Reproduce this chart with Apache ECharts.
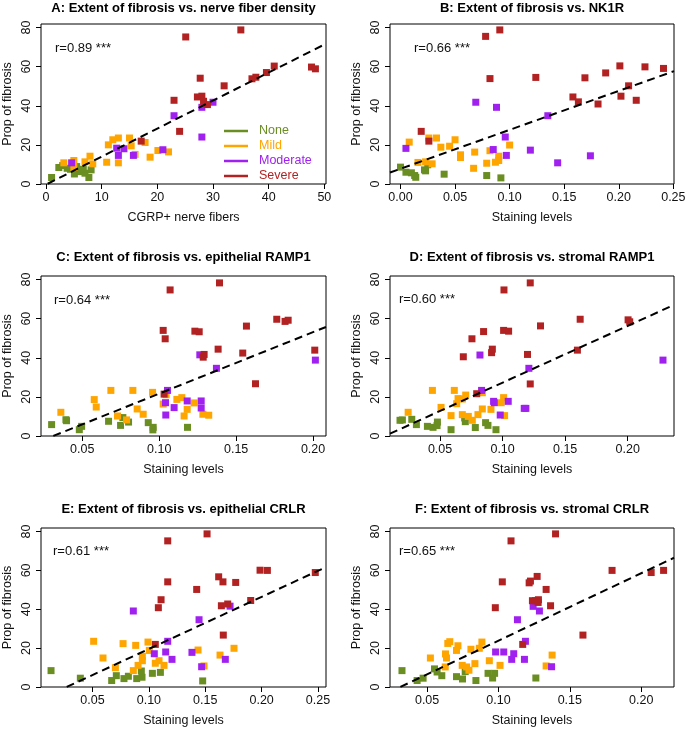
<!DOCTYPE html>
<html><head><meta charset="utf-8">
<script src="https://cdn.jsdelivr.net/npm/echarts@6/dist/echarts.min.js"></script>
<style>html,body{margin:0;padding:0;background:#fff}#c{width:685px;height:729px}</style>
</head><body><div id="c"></div><script>
// ---------- data ----------
const groups = ['None', 'Mild', 'Moderate', 'Severe'];
const groupColors = ['#6B8E23', '#FFA500', '#A020F0', '#B22222'];

const panelTitles = [
  'A: Extent of fibrosis vs. nerve fiber density',
  'B: Extent of fibrosis vs. NK1R',
  'C: Extent of fibrosis vs. epithelial RAMP1',
  'D: Extent of fibrosis vs. stromal RAMP1',
  'E: Extent of fibrosis vs. epithelial CRLR',
  'F: Extent of fibrosis vs. stromal CRLR'
];
const xNames = ['CGRP+ nerve fibers', 'Staining levels', 'Staining levels', 'Staining levels', 'Staining levels', 'Staining levels'];
const yName = 'Prop of fibrosis';
const rLabels = ['r=0.89 ***', 'r=0.66 ***', 'r=0.64 ***', 'r=0.60 ***', 'r=0.61 ***', 'r=0.65 ***'];

const yTicks = [0, 20, 40, 60, 80];
const xTicksA = [0, 10, 20, 30, 40, 50];
const xTicksB = [0, 0.05, 0.10, 0.15, 0.20, 0.25];
const xTicksC = [0.05, 0.10, 0.15, 0.20];
const xTicksD = [0.05, 0.10, 0.15, 0.20];
const xTicksE = [0.05, 0.10, 0.15, 0.20, 0.25];
const xTicksF = [0.05, 0.10, 0.15, 0.20];

// axis ranges (R style 4% extension)
const xRanges = [[-0.9, 50.3], [-0.0096, 0.2506], [0.0232, 0.2084], [0.010, 0.237], [0.0043, 0.2571], [0.024, 0.223]];
const yRange = [-0.03, 81.83];

// Panel A
const aNone = [[1.0,3.3],[2.3,8.4],[3.0,9.4],[3.8,8.0],[4.4,7.5],[5.1,5.1],[6.1,6.3],[7.0,5.5],[6.7,7.5],[8.1,7.2],[7.7,3.3],[5.5,8.9]];
const aMild = [[11.2,20.0],[12.0,22.6],[13.0,23.5],[15.0,23.5],[15.3,19.5],[16.0,15.1],[17.8,21.2],[18.7,13.7],[20.1,17.1],[22.0,16.4],[10.9,11.1],[13.0,10.8],[7.9,14.2],[8.4,10.3],[7.0,11.3],[5.0,12.0],[3.2,10.8],[5.0,8.4]];
const aModerate = [[23.0,34.9],[28.0,39.2],[30.0,41.8],[28.0,24.0],[21.0,17.5],[12.7,18.3],[14.0,18.0],[13.0,14.6],[15.7,14.6],[4.6,10.8]];
const aSevere = [[25.1,75.2],[35.0,78.8],[27.7,54.1],[23.0,42.8],[24.0,26.9],[17.1,21.9],[27.2,44.5],[28.0,44.9],[28.3,42.3],[29.0,40.6],[32.0,50.2],[37.0,53.8],[37.7,54.6],[39.6,57.0],[41.0,60.3],[47.7,59.8],[48.4,58.9]];
const aFit = [[0.3,0.1],[50.3,71.75]];

// Panel B
const bNone = [[0.000,8.6],[0.005,6.0],[0.010,5.7],[0.013,4.3],[0.014,3.4],[0.022,7.2],[0.025,9.8],[0.023,6.7],[0.040,5.0],[0.079,4.3],[0.092,3.1]];
const bMild = [[0.008,21.4],[0.026,23.5],[0.033,23.5],[0.037,18.8],[0.045,19.3],[0.050,22.6],[0.055,14.9],[0.055,13.5],[0.068,16.3],[0.067,8.0],[0.079,10.6],[0.082,17.0],[0.087,11.1],[0.090,12.0],[0.090,14.2],[0.100,19.9],[0.016,11.0],[0.023,11.3],[0.029,10.3]];
const bModerate = [[0.005,18.2],[0.069,41.8],[0.088,39.2],[0.135,34.9],[0.096,24.0],[0.085,17.6],[0.097,14.6],[0.119,17.3],[0.144,10.8],[0.174,14.4]];
const bSevere = [[0.078,75.5],[0.091,78.8],[0.082,53.9],[0.124,54.5],[0.019,26.9],[0.026,21.9],[0.158,44.5],[0.163,42.0],[0.169,54.3],[0.188,56.8],[0.181,40.9],[0.201,60.4],[0.202,44.9],[0.209,50.2],[0.216,42.8],[0.224,59.9],[0.241,59.1]];
const bFit = [[-0.0096,5.84],[0.2506,57.69]];

// Panel C
const cNone = [[0.0301,5.8],[0.0394,8.3],[0.0398,7.8],[0.0481,3.2],[0.0496,4.9],[0.0671,7.5],[0.0749,5.4],[0.0764,9.4],[0.0801,7.1],[0.0929,6.8],[0.0961,4.4],[0.0959,3.1],[0.1184,4.4]];
const cMild = [[0.0361,12.1],[0.0578,18.6],[0.0591,14.8],[0.0686,23.3],[0.0729,10.2],[0.0788,8.2],[0.0829,23.3],[0.0857,13.8],[0.0896,11.1],[0.0957,22.3],[0.1026,16.3],[0.1045,21.1],[0.1115,18.7],[0.1147,19.6],[0.1162,10.2],[0.1182,13.6],[0.1227,16.9],[0.1284,11.1],[0.1322,10.6]];
const cModerate = [[0.1264,41.5],[0.1372,34.6],[0.2015,38.8],[0.1054,23.3],[0.1041,17.0],[0.1043,10.7],[0.1097,14.5],[0.1182,17.9],[0.1273,17.9],[0.1273,14.3]];
const cSevere = [[0.1071,74.7],[0.1392,78.3],[0.1026,54.0],[0.1039,49.7],[0.1232,53.6],[0.1260,53.3],[0.1383,44.4],[0.1292,41.7],[0.1286,40.3],[0.1543,42.4],[0.1567,56.2],[0.1764,59.7],[0.1818,58.6],[0.1838,59.2],[0.2011,43.9],[0.1626,26.7],[0.1032,21.4]];
const cFit = [[0.0312,0],[0.2084,55.76]];

// Panel D
const dNone = [[0.018,8.0],[0.0199,8.2],[0.0274,8.5],[0.0311,5.8],[0.0399,4.9],[0.0444,4.4],[0.0476,5.3],[0.0479,7.1],[0.0588,3.2],[0.0697,9.2],[0.0702,7.3],[0.0782,4.3],[0.0864,6.8],[0.0883,5.4],[0.0947,3.2]];
const dMild = [[0.0245,12.1],[0.0439,23.3],[0.0508,14.6],[0.0588,10.4],[0.0614,23.3],[0.0633,16.5],[0.0644,19.1],[0.0678,18.9],[0.0705,20.9],[0.0678,10.9],[0.0726,10.0],[0.0758,8.0],[0.0803,10.9],[0.0838,13.8],[0.0907,13.6],[0.0989,17.0],[0.1008,19.6],[0.1016,10.4],[0.0838,22.1]];
const dModerate = [[0.0819,41.4],[0.1210,34.6],[0.2282,38.8],[0.0832,23.3],[0.0928,17.7],[0.0934,17.0],[0.1045,17.7],[0.1173,14.1],[0.1186,14.1],[0.0981,10.7]];
const dSevere = [[0.1011,74.7],[0.1221,78.3],[0.0755,49.7],[0.0848,53.4],[0.1008,54.0],[0.1048,53.6],[0.1303,56.3],[0.1620,59.7],[0.2003,59.4],[0.2016,58.4],[0.0686,40.5],[0.0912,42.6],[0.0918,44.4],[0.1199,41.7],[0.1598,43.9],[0.1221,26.6],[0.0793,21.6]];
const dFit = [[0.010,1.17],[0.237,67.05]];

// Panel E
const eNone = [[0.0132,8.4],[0.0392,4.5],[0.0670,3.3],[0.0711,5.8],[0.0779,4.3],[0.0818,5.5],[0.0892,4.3],[0.0933,8.2],[0.0939,5.0],[0.1031,7.0],[0.1102,7.5],[0.1477,3.1]];
const eMild = [[0.0510,23.5],[0.0593,14.9],[0.0771,22.3],[0.0883,21.4],[0.0992,23.1],[0.1004,18.8],[0.0703,9.9],[0.0862,8.4],[0.0904,11.1],[0.0942,13.5],[0.0942,15.8],[0.1057,12.2],[0.1090,13.5],[0.1134,11.1],[0.1436,19.0],[0.1631,16.4],[0.1755,19.9],[0.1489,10.8]];
const eModerate = [[0.0862,39.1],[0.1445,34.6],[0.1720,41.6],[0.1167,23.5],[0.1048,17.1],[0.1149,18.0],[0.1205,14.2],[0.1382,17.8],[0.1678,14.2],[0.1468,10.4]];
const eSevere = [[0.1167,75.2],[0.1516,78.8],[0.1167,54.1],[0.1424,50.2],[0.1108,44.9],[0.1084,40.8],[0.1619,56.7],[0.1657,54.1],[0.1770,53.8],[0.1986,60.1],[0.2051,60.0],[0.2476,58.9],[0.1903,44.5],[0.1643,41.8],[0.1699,42.7],[0.1660,26.7],[0.1057,21.9]];
const eFit = [[0.0271,0],[0.2571,61.7]];

// Panel F
const fNone = [[0.0324,8.4],[0.0430,3.3],[0.0472,4.5],[0.0552,9.3],[0.0570,7.7],[0.0603,5.8],[0.0706,5.3],[0.0748,4.1],[0.0767,7.9],[0.0842,3.3],[0.0927,7.0],[0.0959,4.6],[0.0973,7.0],[0.1262,4.6]];
const fMild = [[0.0523,14.9],[0.0629,17.0],[0.0636,14.9],[0.0627,10.3],[0.0645,22.4],[0.0659,23.3],[0.0716,21.2],[0.0706,18.8],[0.0807,19.4],[0.0746,11.1],[0.0777,10.3],[0.0793,8.6],[0.0835,12.0],[0.0866,19.9],[0.0884,23.1],[0.0936,13.5],[0.1011,11.1],[0.1334,10.8],[0.1376,16.4]];
const fModerate = [[0.1243,41.5],[0.1287,39.1],[0.1133,34.6],[0.1189,23.5],[0.0980,18.0],[0.1037,18.0],[0.1107,17.1],[0.1093,14.2],[0.1182,14.2],[0.1372,10.4]];
const fSevere = [[0.1088,75.2],[0.1400,78.8],[0.1027,54.1],[0.1215,53.6],[0.1224,54.5],[0.1271,56.9],[0.1334,50.2],[0.0978,40.8],[0.1238,44.4],[0.1259,44.4],[0.1280,44.9],[0.1365,41.8],[0.1278,43.5],[0.1796,60.0],[0.2070,58.9],[0.2157,60.0],[0.1592,26.7],[0.1170,21.9]];
const fFit = [[0.0313,0],[0.223,66.5]];

// ---------- assembly ----------
const panelData = [
  [aNone, aMild, aModerate, aSevere],
  [bNone, bMild, bModerate, bSevere],
  [cNone, cMild, cModerate, cSevere],
  [dNone, dMild, dModerate, dSevere],
  [eNone, eMild, eModerate, eSevere],
  [fNone, fMild, fModerate, fSevere]
];
const fits = [aFit, bFit, cFit, dFit, eFit, fFit];
const xTicks = [xTicksA, xTicksB, xTicksC, xTicksD, xTicksE, xTicksF];

const FONT = "'Liberation Sans', Arial, Helvetica, sans-serif";
const FS = 12.5;
const boxes = [
  {left: 41, top: 24, width: 285, height: 160},
  {left: 390, top: 24, width: 284, height: 160},
  {left: 41, top: 276, width: 285, height: 160},
  {left: 390, top: 276, width: 284, height: 160},
  {left: 41, top: 528, width: 285, height: 159},
  {left: 390, top: 528, width: 284, height: 159}
];
const titlePos = [[183.5, 8], [532, 8], [183.5, 257], [532, 257], [183.5, 509], [532, 509]];
const rPos = [[55, 48], [414, 48], [54, 300], [399, 299], [53, 551], [399, 551]];

const grid = [], xAxis = [], yAxis = [], series = [], graphic = [];
boxes.forEach((b, i) => {
  grid.push(Object.assign({show: true, borderColor: '#000', borderWidth: 1, backgroundColor: 'transparent', outerBoundsMode: 'none', containLabel: false}, b));
  xAxis.push({
    type: 'value', gridIndex: i, min: xRanges[i][0], max: xRanges[i][1],
    axisLine: {show: false, onZero: false},
    axisTick: {show: true, customValues: xTicks[i], length: 5, lineStyle: {color: '#000', width: 1}},
    axisLabel: {customValues: xTicks[i], margin: 7, fontSize: FS, fontFamily: FONT, color: '#111', lineHeight: 14,
      formatter: i === 0 ? (v => String(Math.round(v))) : (v => v.toFixed(2))},
    splitLine: {show: false},
    name: xNames[i], nameLocation: 'middle', nameGap: 27,
    nameTextStyle: {fontSize: FS, fontFamily: FONT, color: '#111', lineHeight: 14}
  });
  yAxis.push({
    type: 'value', gridIndex: i, min: yRange[0], max: yRange[1],
    axisLine: {show: false, onZero: false},
    axisTick: {show: true, customValues: yTicks, length: 5, lineStyle: {color: '#000', width: 1}},
    axisLabel: {customValues: yTicks, rotate: 90, margin: 7, fontSize: FS, fontFamily: FONT, color: '#111', lineHeight: 14},
    splitLine: {show: false},
    name: yName, nameLocation: 'middle', nameGap: 26,
    nameTextStyle: {fontSize: FS, fontFamily: FONT, color: '#111', lineHeight: 14}
  });
  panelData[i].forEach((pts, k) => {
    series.push({
      type: 'scatter', name: groups[k], xAxisIndex: i, yAxisIndex: i,
      symbol: 'rect', symbolSize: 7, data: pts,
      itemStyle: {color: groupColors[k], opacity: 1}, silent: true, z: 2
    });
  });
  series.push({
    type: 'line', xAxisIndex: i, yAxisIndex: i, data: fits[i], showSymbol: false, symbol: 'none',
    clip: true, silent: true, z: 3,
    lineStyle: {color: '#000', width: 2, type: [8, 5]}
  });
  graphic.push({type: 'text', x: titlePos[i][0], y: titlePos[i][1],
    style: {text: panelTitles[i], fill: '#000', font: 'bold 13px ' + FONT, textAlign: 'center', textVerticalAlign: 'middle'}});
  graphic.push({type: 'text', x: rPos[i][0], y: rPos[i][1],
    style: {text: rLabels[i], fill: '#111', font: '13px ' + FONT, textAlign: 'left', textVerticalAlign: 'middle'}});
});

const chart = echarts.init(document.getElementById('c'), null, {renderer: 'canvas'});
chart.setOption({
  backgroundColor: '#fff',
  animation: false,
  grid, xAxis, yAxis, series, graphic,
  legend: {
    left: 224, top: 124, orient: 'vertical', padding: 0, icon: 'rect',
    itemWidth: 24, itemHeight: 2.5, itemGap: 1, selectedMode: false,
    data: groups.map((g, k) => ({name: g, textStyle: {color: groupColors[k]}})),
    textStyle: {fontSize: FS, fontFamily: FONT, lineHeight: 14, padding: [0, 0, 0, 6]}
  }
});
</script></body></html>
